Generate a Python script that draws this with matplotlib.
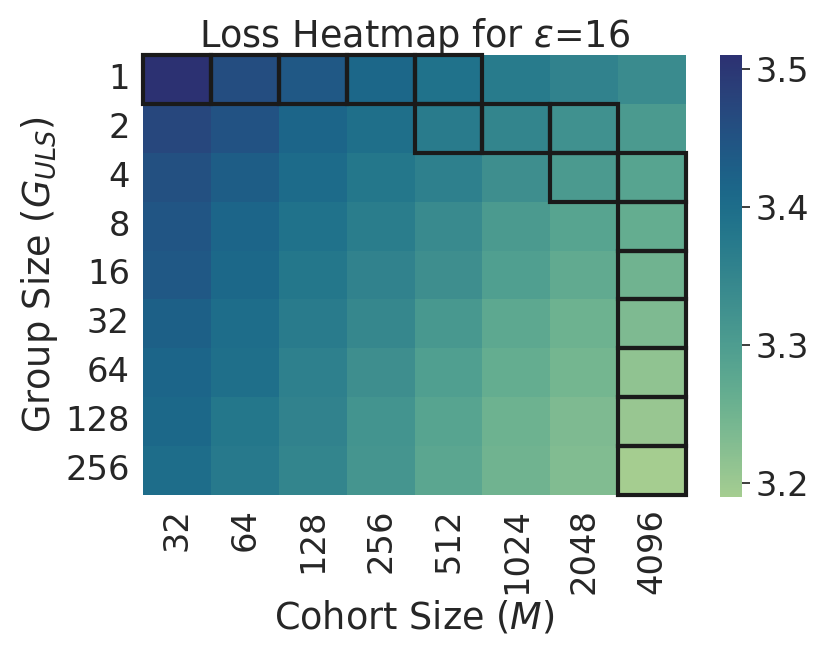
import numpy as np
import matplotlib
matplotlib.use("Agg")
import matplotlib.pyplot as plt
import seaborn as sns
from matplotlib.patches import Rectangle

cohort_sizes = ["32", "64", "128", "256", "512", "1024", "2048", "4096"]
group_sizes = ["1", "2", "4", "8", "16", "32", "64", "128", "256"]

loss_g1 = [3.510, 3.460, 3.440, 3.412, 3.390, 3.372, 3.356, 3.338]
loss_g2 = [3.470, 3.450, 3.415, 3.395, 3.370, 3.350, 3.325, 3.305]
loss_g4 = [3.455, 3.430, 3.405, 3.380, 3.360, 3.330, 3.305, 3.285]
loss_g8 = [3.445, 3.415, 3.390, 3.368, 3.340, 3.305, 3.285, 3.265]
loss_g16 = [3.440, 3.410, 3.380, 3.355, 3.330, 3.295, 3.270, 3.250]
loss_g32 = [3.425, 3.400, 3.370, 3.345, 3.310, 3.275, 3.255, 3.235]
loss_g64 = [3.415, 3.395, 3.360, 3.330, 3.295, 3.265, 3.245, 3.215]
loss_g128 = [3.410, 3.380, 3.355, 3.320, 3.285, 3.255, 3.235, 3.205]
loss_g256 = [3.400, 3.375, 3.350, 3.315, 3.280, 3.250, 3.230, 3.190]

# highlighted cells (row index, column index)
highlight_rows = [0, 0, 0, 0, 0, 1, 1, 1, 2, 2, 3, 4, 5, 6, 7, 8]
highlight_cols = [0, 1, 2, 3, 4, 4, 5, 6, 6, 7, 7, 7, 7, 7, 7, 7]

data = np.array([loss_g1, loss_g2, loss_g4, loss_g8, loss_g16,
                 loss_g32, loss_g64, loss_g128, loss_g256])

sns.set_theme(style="white", font_scale=2.2)
plt.rcParams['font.family'] = ['DejaVu Sans']

fig = plt.figure(figsize=(8.3, 6.59), dpi=100)
ax = fig.add_axes([143/830, 1-495/659, (686-143)/830, (495-55)/659])
cax = fig.add_axes([720/830, 1-497/659, 22/830, (497-55)/659])

sns.heatmap(data, ax=ax, cbar_ax=cax, cmap="crest",
            xticklabels=cohort_sizes, yticklabels=group_sizes)

for r, c in zip(highlight_rows, highlight_cols):
    ax.add_patch(Rectangle((c, r), 1, 1, fill=False, edgecolor='#1a1a1a',
                           lw=3, clip_on=False, zorder=5))

ax.tick_params(axis='x', rotation=90)
ax.tick_params(axis='y', rotation=0)
ax.set_xlabel("Cohort Size ($M$)")
ax.set_ylabel("Group Size ($G_{ULS}$)")
ax.set_title(r"Loss Heatmap for $\varepsilon$=16")

cax.set_yticks([3.2, 3.3, 3.4, 3.5])

fig.savefig("out.png", dpi=100)
